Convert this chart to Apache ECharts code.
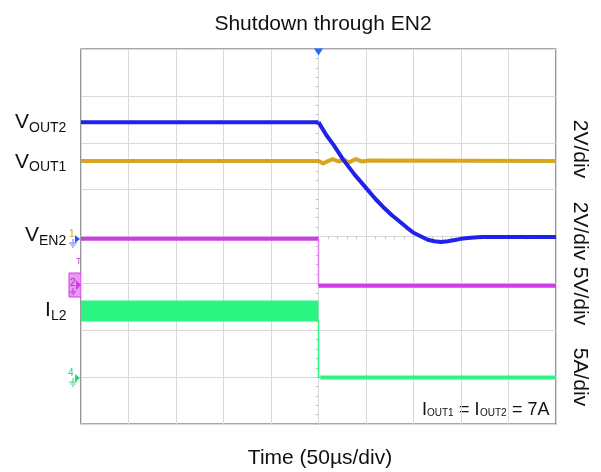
<!DOCTYPE html>
<html><head><meta charset="utf-8">
<script src="https://cdn.jsdelivr.net/npm/echarts@6/dist/echarts.min.js"></script>
<style>html,body{margin:0;padding:0;background:#fff}#c{width:601px;height:472px}</style>
</head><body><div id="c"></div>
<script>
// Time in µs (50 µs/div), vertical values in screen divisions (center = 0)
const timeAxis = { min: -250, max: 250, interval: 50 };
const divAxis = { min: -4, max: 4, interval: 1 };

const vout2Flat = [[-250,2.44],[0,2.44]];
const vout2Fall = [[0,2.44],[8,2.17],[16,1.95],[26,1.64],[38,1.32],[52,0.99],[60,0.8],[68,0.63],[77,0.46],[86,0.31],[93,0.19],[100,0.08],[108,0.0],[115,-0.07],[122,-0.1],[129,-0.115],[136,-0.1],[142,-0.08],[150,-0.05],[157,-0.03],[171,-0.01],[250,-0.01]];
const vout1 = [[-250,1.61],[0,1.61],[5,1.56],[10,1.61],[15,1.65],[21,1.6],[27,1.64],[32,1.58],[39,1.65],[46,1.6],[52,1.62],[250,1.61]];
const en2High = [[-250,-0.05],[0,-0.05]];
const en2Edge = [[0,-0.05],[0,-1.05]];
const en2Low = [[0,-1.05],[250,-1.05]];
const il2High = [[-250,-1.59],[0,-1.59]];
const il2Edge = [[0,-1.8],[0,-3.0],[2,-3.0]];
const il2Low = [[2,-3.01],[250,-3.01]];

const FONT = 'Liberation Sans, Arial, sans-serif';
const C_BLUE = '#2121ec', C_YEL = '#d7a51e', C_MAG = '#d03be8', C_GRN = '#2af583';

function line(name, data, color, width, z) {
  return { type: 'line', name, data, showSymbol: false, symbol: 'none',
    lineStyle: { color, width, cap: 'butt', join: 'round' }, z: z || 2, silent: true };
}
function txt(x, y, text, size, color, extra) {
  return { type: 'text', x, y, style: Object.assign({ text, font: size + 'px ' + FONT, fill: color || '#111', verticalAlign: 'middle', align: 'left' }, extra || {}) };
}
function vtxt(x, y, text) {
  return { type: 'text', x, y, rotation: -Math.PI / 2, style: { text, font: '21px ' + FONT, fill: '#111', align: 'center', verticalAlign: 'middle' } };
}
function ln(x1, y1, x2, y2, color) {
  return { type: 'line', shape: { x1, y1, x2, y2 }, style: { stroke: color, lineWidth: 1 } };
}

const chart = echarts.init(document.getElementById('c'));
chart.setOption({
  animation: false,
  backgroundColor: '#fff',
  title: { text: 'Shutdown through EN2', left: 318, top: 9, textAlign: 'center',
    textStyle: { fontFamily: FONT, fontSize: 21, fontWeight: 'normal', color: '#111' } },
  grid: { left: 81, top: 49, right: 45, bottom: 48, show: true, borderColor: '#555', borderWidth: 1.2, backgroundColor: 'transparent' },
  xAxis: { type: 'value', min: timeAxis.min, max: timeAxis.max, interval: timeAxis.interval,
    axisLabel: { show: false },
    axisLine: { show: true, onZero: true, lineStyle: { color: '#d9d9d9' } },
    axisTick: { show: true, length: 3, lineStyle: { color: '#c8c8c8' } },
    minorTick: { show: true, splitNumber: 5, length: 3, lineStyle: { color: '#c8c8c8' } },
    splitLine: { show: true, lineStyle: { color: '#d9d9d9', width: 1 } } },
  yAxis: { type: 'value', min: divAxis.min, max: divAxis.max, interval: divAxis.interval,
    axisLabel: { show: false },
    axisLine: { show: true, onZero: true, lineStyle: { color: '#d9d9d9' } },
    axisTick: { show: true, length: 3, lineStyle: { color: '#c8c8c8' } },
    minorTick: { show: true, splitNumber: 5, length: 3, lineStyle: { color: '#c8c8c8' } },
    splitLine: { show: true, lineStyle: { color: '#d9d9d9', width: 1 } } },
  series: [
    line('VOUT1', vout1, C_YEL, 4, 2),
    line('VEN2 high', en2High, C_MAG, 4, 3),
    line('VEN2 edge', en2Edge, '#e27cf0', 1.5, 3),
    line('VEN2 low', en2Low, C_MAG, 4, 3),
    line('IL2 high', il2High, C_GRN, 21, 3),
    line('IL2 edge', il2Edge, C_GRN, 1.5, 3),
    line('IL2 low', il2Low, C_GRN, 4, 3),
    line('VOUT2 flat', vout2Flat, C_BLUE, 4, 4),
    Object.assign(line('VOUT2', vout2Fall, C_BLUE, 4, 4), {
      markPoint: { silent: true, data: [{ coord: [0, 4], symbol: 'triangle', symbolRotate: 180, symbolSize: [9, 7], symbolOffset: [0, 3], itemStyle: { color: '#1f6fff' }, label: { show: false } }] }
    })
  ],
  graphic: [
    // left channel labels
    txt(15, 122.5, 'V', 21), txt(29, 128, 'OUT2', 14),
    txt(15, 162.5, 'V', 21), txt(29, 167, 'OUT1', 14),
    txt(25, 235, 'V', 21), txt(39, 241, 'EN2', 14),
    txt(45, 310.5, 'I', 21), txt(51, 316, 'L2', 14),
    // right scale labels
    vtxt(580, 149, '2V/div'), vtxt(580, 231, '2V/div'), vtxt(580, 296, '5V/div'), vtxt(580, 377, '5A/div'),
    // x title
    { type: 'text', x: 320, y: 458, style: { text: 'Time (50µs/div)', font: '21px ' + FONT, fill: '#111', align: 'center', verticalAlign: 'middle' } },
    // annotation
    txt(422, 410, 'I', 18), txt(427, 413, 'OUT1', 10), txt(454, 410, ' = I', 18), txt(480, 413, 'OUT2', 10), txt(507, 410, ' = 7A', 18),
    // channel markers
    txt(69, 234, '1', 10, '#d7a51e'),
    { type: 'polygon', shape: { points: [[75, 235], [80, 239], [75, 243]] }, style: { fill: '#2a55ff' } },
    ln(73, 239, 73, 243, '#6677ff'), ln(69, 243, 77, 243, '#6677ff'), ln(70.5, 245, 75.5, 245, '#6677ff'), ln(72, 247, 74, 247, '#6677ff'),
    txt(76, 262, 'T', 9, C_MAG),
    { type: 'rect', shape: { x: 69, y: 273, width: 12, height: 24 }, style: { fill: '#ea98f3', stroke: C_MAG, lineWidth: 1 } },
    txt(70, 283, '2', 10, '#a02cb8'),
    { type: 'polygon', shape: { points: [[76, 280], [81, 285], [76, 290]] }, style: { fill: C_MAG } },
    ln(73, 288, 73, 292, '#b040c8'), ln(70, 292, 76, 292, '#b040c8'), ln(71.5, 294, 74.5, 294, '#b040c8'),
    txt(68, 373, '4', 10, '#28d878'),
    { type: 'polygon', shape: { points: [[75, 374], [80, 378], [75, 382]] }, style: { fill: '#28d878' } },
    ln(73, 378, 73, 382, '#28d878'), ln(69, 382, 77, 382, '#28d878'), ln(70.5, 384, 75.5, 384, '#28d878'), ln(72, 386, 74, 386, '#28d878')
  ]
});
</script>
</body></html>
